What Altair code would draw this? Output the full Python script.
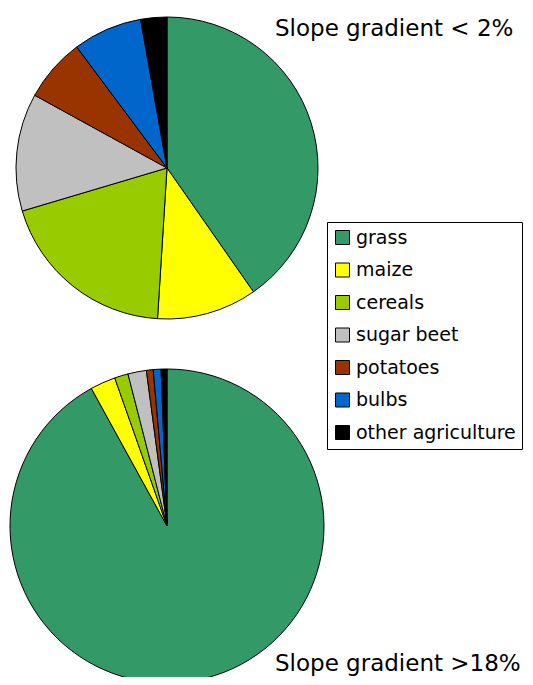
import altair as alt
import pandas as pd

categories = ["grass", "maize", "cereals", "sugar beet", "potatoes", "bulbs", "other agriculture"]
colors = ["#339966", "#FFFF00", "#99CC00", "#C0C0C0", "#993300", "#0066CC", "#000000"]
share_flat = [40.3, 10.7, 19.4, 12.6, 6.8, 7.4, 2.8]      # slope gradient < 2%
share_steep = [92.0, 2.6, 1.4, 1.9, 0.7, 0.8, 0.6]      # slope gradient > 18%
titles = ["Slope gradient < 2%", "Slope gradient >18%"]

FONT = "DejaVu Sans"

df_top = pd.DataFrame({"crop": categories, "share": share_flat, "idx": list(range(len(categories)))})
df_bot = pd.DataFrame({"crop": categories, "share": share_steep, "idx": list(range(len(categories)))})

color = alt.Color(
    "crop:N",
    scale=alt.Scale(domain=categories, range=colors),
    legend=alt.Legend(
        title=None,
        orient="none",
        legendX=319,
        legendY=214,
        symbolType="square",
        symbolSize=196,
        symbolStrokeColor="black",
        symbolStrokeWidth=1,
        symbolFillColor="white",
        labelFont=FONT,
        labelFontSize=19,
        labelColor="black",
        labelLimit=300,
        labelOffset=4,
        rowPadding=12.5,
        padding=6,
        strokeColor="black",
        fillColor="white",
    ),
)

top = alt.Chart(df_top).mark_arc(outerRadius=151, stroke="black", strokeWidth=1).encode(
    theta=alt.Theta("share:Q", stack=True),
    order=alt.Order("idx:Q"),
    color=color,
    x=alt.value(159),
    y=alt.value(160),
)

bot = alt.Chart(df_bot).mark_arc(outerRadius=157, stroke="black", strokeWidth=1).encode(
    theta=alt.Theta("share:Q", stack=True),
    order=alt.Order("idx:Q"),
    color=color,
    x=alt.value(159),
    y=alt.value(518),
)

t1 = alt.Chart(pd.DataFrame({"t": [titles[0]]})).mark_text(
    font=FONT, fontSize=23, align="left", baseline="alphabetic", color="black"
).encode(text="t:N", x=alt.value(267), y=alt.value(28))

t2 = alt.Chart(pd.DataFrame({"t": [titles[1]]})).mark_text(
    font=FONT, fontSize=23, align="left", baseline="alphabetic", color="black"
).encode(text="t:N", x=alt.value(267), y=alt.value(663))

chart = alt.layer(top, bot, t1, t2).resolve_scale(theta="independent").properties(
    width=517, height=669, padding=0,
    autosize=alt.AutoSizeParams(type="none"),
).configure_view(stroke=None)

chart.save("out.html", embed_options={"renderer": "svg", "actions": False})
